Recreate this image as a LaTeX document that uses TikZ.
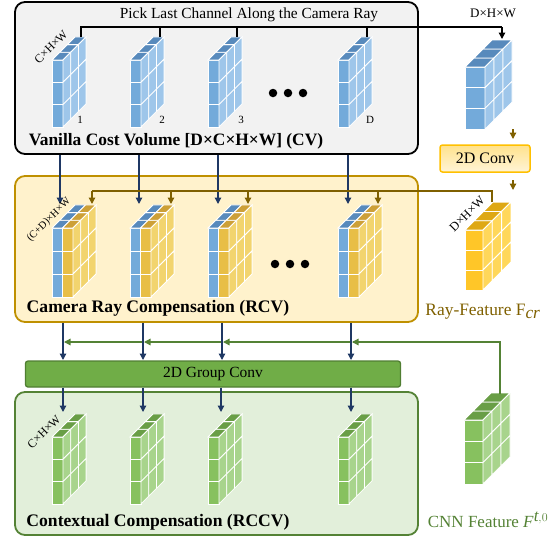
\documentclass[tikz,border=0pt]{standalone}
\usepackage{fontspec}
\setmainfont{Liberation Serif}
\usetikzlibrary{arrows.meta}
\definecolor{blF}{RGB}{115,170,218}
\definecolor{blT}{RGB}{88,138,188}
\definecolor{blS}{RGB}{158,198,234}
\definecolor{yeF}{RGB}{232,190,70}
\definecolor{yeT}{RGB}{205,160,55}
\definecolor{yeS}{RGB}{242,212,110}
\definecolor{gyF}{RGB}{255,198,40}
\definecolor{gyT}{RGB}{222,168,20}
\definecolor{gyS}{RGB}{255,215,90}
\definecolor{grF}{RGB}{135,193,95}
\definecolor{grT}{RGB}{105,158,70}
\definecolor{grS}{RGB}{168,212,140}
\definecolor{navy}{RGB}{31,56,100}
\definecolor{rayc}{RGB}{127,96,0}
\definecolor{dgreen}{RGB}{84,130,53}
\definecolor{cvfill}{RGB}{242,242,242}
\definecolor{rcvfill}{RGB}{255,242,204}
\definecolor{rcvline}{RGB}{191,144,0}
\definecolor{rccvfill}{RGB}{226,239,218}
\definecolor{gconv}{RGB}{112,173,71}
\definecolor{gconvline}{RGB}{80,126,50}
\definecolor{convline}{RGB}{255,192,0}
\definecolor{convtop}{RGB}{255,226,140}
\definecolor{convbot}{RGB}{255,244,214}
% #1 X, #2 Y, #3 w, #4 h, #5 d, #6 rows, #7 depth, #8 column colours, #9 last colour
\newcommand\vol[9]{%
  \foreach \cc [count=\nn] in {#8}{\xdef\volncols{\nn}}%
  \foreach \cc [count=\ii from 0] in {#8}{%
    \foreach \jj in {1,...,#6}{%
      \filldraw[fill=\cc F, cellline] ({#1+\ii*#3},{#2+(\jj-1)*#4}) rectangle ++(#3,#4);}
    \foreach \kk in {1,...,#7}{%
      \filldraw[fill=\cc T, cellline] ({#1+\ii*#3+(\kk-1)*#5},{#2-(\kk-1)*#5}) -- ++(#3,0) -- ++(#5,-#5) -- ++(-#3,0) -- cycle;}
  }%
  \pgfmathsetmacro\volxr{#1+\volncols*#3}%
  \foreach \jj in {1,...,#6}{%
    \foreach \kk in {1,...,#7}{%
      \filldraw[fill=#9S, cellline] ({\volxr+(\kk-1)*#5},{#2+(\jj-1)*#4-(\kk-1)*#5}) -- ++(#5,-#5) -- ++(0,#4) -- ++(-#5,#5) -- cycle;}}%
}
\begin{document}
\begin{tikzpicture}[x=1pt,y=-1pt,
  cellline/.style={draw=white, line width=0.8pt},
  bigbox/.style={rounded corners=10pt, line width=1.8pt, inner sep=0pt, minimum width=403pt},
  arr/.style={-{Triangle[length=6.5pt,width=6.5pt]}, line width=1.3pt},
  bluearr/.style={arr, draw=navy},
  brnarr/.style={arr, draw=rayc},
  brnln/.style={line width=1.3pt, draw=rayc},
  grnarr/.style={arr, draw=dgreen},
  grnln/.style={line width=1.3pt, draw=dgreen},
  blkln/.style={line width=1.3pt, draw=black},
  blkarr/.style={arr, draw=black},
  small/.style={font=\fontsize{11}{13}\selectfont, inner sep=0pt},
  title/.style={font=\bfseries\fontsize{17.6}{20}\selectfont, inner sep=0pt},
  dot/.style={circle, fill=black, inner sep=0pt, minimum size=8.5pt}
]
\useasboundingbox (0,0) rectangle (557,539);
% boxes
\node[bigbox, draw=black, fill=cvfill, minimum height=152pt] (cv) at (216.5,78) {};
\node[bigbox, draw=rcvline, fill=rcvfill, minimum height=146pt] (rcv) at (216.5,249) {};
\node[bigbox, draw=dgreen, fill=rccvfill, minimum height=143pt] (rccv) at (216.5,463.5) {};
\node[draw=gconvline, fill=gconv, line width=1.3pt, rounded corners=2.5pt, minimum width=375pt, minimum height=26pt, inner sep=0pt, font=\fontsize{15.5}{17}\selectfont] (gconv) at (213,374) {2D Group Conv};
\node[draw=convline, top color=convtop, bottom color=convbot, line width=1.5pt, rounded corners=2.5pt, minimum width=90pt, minimum height=27pt, inner sep=0pt, font=\fontsize{16}{18}\selectfont] (conv) at (485,158.5) {2D Conv};
% cube stacks
\foreach \X in {52,130,208,338}{\vol{\X}{60}{11}{22.3}{7.7}{3}{3}{bl}{bl}}
\foreach \X in {52,130,208,338}{\vol{\X}{228}{10.5}{23}{7.7}{3}{3}{bl,ye}{ye}}
\foreach \X in {52,130,208,338}{\vol{\X}{437}{11}{22.3}{7.7}{3}{3}{gr}{gr}}
\vol{465}{67}{20}{20.7}{9}{3}{3}{bl}{bl}
\vol{465}{230}{18}{20}{9.3}{3}{3}{gy}{gy}
\vol{464}{420}{19}{21.3}{9}{3}{3}{gr}{gr}
% dots
\foreach \X [count=\n] in {273,288,303}{\node[dot] (cvd\n) at (\X,93) {};}
\foreach \X [count=\n] in {275,290,305}{\node[dot] (rcvd\n) at (\X,264) {};}
% connection points
\coordinate (t1) at (81,37); \coordinate (t2) at (160,37); \coordinate (t3) at (237,37); \coordinate (t4) at (367,37);
\coordinate (bus) at (502,27); \coordinate (dhwtop) at (502,39);
\coordinate (a1) at (60,204); \coordinate (a2) at (139,204); \coordinate (a3) at (218,204); \coordinate (a4) at (348,204);
\coordinate (y1) at (92,204); \coordinate (y2) at (171,204); \coordinate (y3) at (248,204); \coordinate (y4) at (378,204);
\coordinate (ytop) at (492,202); \coordinate (ybus) at (492,191);
\coordinate (g1) at (63,360); \coordinate (g2) at (143,360); \coordinate (g3) at (222,360); \coordinate (g4) at (351,360);
\coordinate (c1) at (63,412); \coordinate (c2) at (143,412); \coordinate (c3) at (221,412); \coordinate (c4) at (351,412);
\coordinate (gtop) at (500,394); \coordinate (gbus) at (500,342);
\coordinate (dhwbot) at (513,129); \coordinate (convin) at (513,139);
\coordinate (convout) at (513,180); \coordinate (ycube) at (513,190);
% black: pick last channel
\draw[blkln] (t1) -- (t1 |- bus) -- (bus);
\foreach \t in {t2,t3,t4}{\draw[blkln] (\t |- bus) -- (\t);}
\draw[blkarr] (bus) -- (dhwtop);
% brown small arrows
\draw[brnarr] (dhwbot) -- (convin);
\draw[brnarr] (convout) -- (ycube);
% blue from CV to RCV
\foreach \a in {a1,a2,a3,a4}{\draw[bluearr] (cv.south -| \a) -- (\a);}
% brown ray bus
\draw[brnln] (ytop) -- (ybus) -- (ybus -| y1);
\foreach \y in {y1,y2,y3,y4}{\draw[brnarr] (\y |- ybus) -- (\y);}
% blue from RCV to group conv
\foreach \g in {g1,g2,g3,g4}{\draw[bluearr] (rcv.south -| \g) -- (\g);}
% green bus
\draw[grnln] (gtop) -- (gbus) -- ([xshift=2pt]gbus -| g4);
\draw[grnarr] (gbus) -- ([xshift=1pt]gbus -| g4);
\draw[grnarr] ([xshift=-1pt]gbus -| g4) -- ([xshift=1pt]gbus -| g3);
\draw[grnarr] ([xshift=-1pt]gbus -| g3) -- ([xshift=1pt]gbus -| g2);
\draw[grnarr] ([xshift=-1pt]gbus -| g2) -- ([xshift=1pt]gbus -| g1);
% blue from group conv to RCCV
\foreach \c in {c1,c2,c3,c4}{\draw[bluearr] (gconv.south -| \c) -- (\c);}
% texts
\node[font=\fontsize{15.4}{17}\selectfont, inner sep=0pt] (pick) at (249,15) {Pick Last Channel Along the Camera Ray};
\node[small, font=\fontsize{13}{15}\selectfont] (dhwlab) at (493,13) {D×H×W};
\node[small, font=\fontsize{12}{14}\selectfont, rotate=45] (chw1) at (51,47) {C×H×W};
\node[small] (n1) at (80,120) {1};
\node[small] (n2) at (162,120) {2};
\node[small] (n3) at (241,120) {3};
\node[small] (nD) at (370,120) {D};
\node[title, font=\bfseries\fontsize{17.4}{20}\selectfont] (cvlab) at (176,141) {Vanilla Cost Volume [D×C×H×W] (CV)};
\node[small, font=\fontsize{10.5}{12}\selectfont, rotate=45] (cdhw) at (49,220) {(C+D)×H×W};
\node[small, font=\fontsize{12.5}{14}\selectfont, rotate=45] (dhw2) at (467,214) {D×H×W};
\node[title] (rcvlab) at (158,308) {Camera Ray Compensation (RCV)};
\node[inner sep=0pt, text=rayc, font=\fontsize{17.4}{20}\selectfont] (raylab) at (483,312) {Ray-Feature F$_{\textit{cr}}$};
\node[small, font=\fontsize{12}{14}\selectfont, rotate=45] (chw2) at (44,432) {C×H×W};
\node[title] (rccvlab) at (158,522) {Contextual Compensation (RCCV)};
\node[inner sep=0pt, text=dgreen, font=\fontsize{17}{20}\selectfont] (cnnlab) at (488,520) {CNN Feature \textit{F}$^{\textit{t},0}$};
\end{tikzpicture}
\end{document}
